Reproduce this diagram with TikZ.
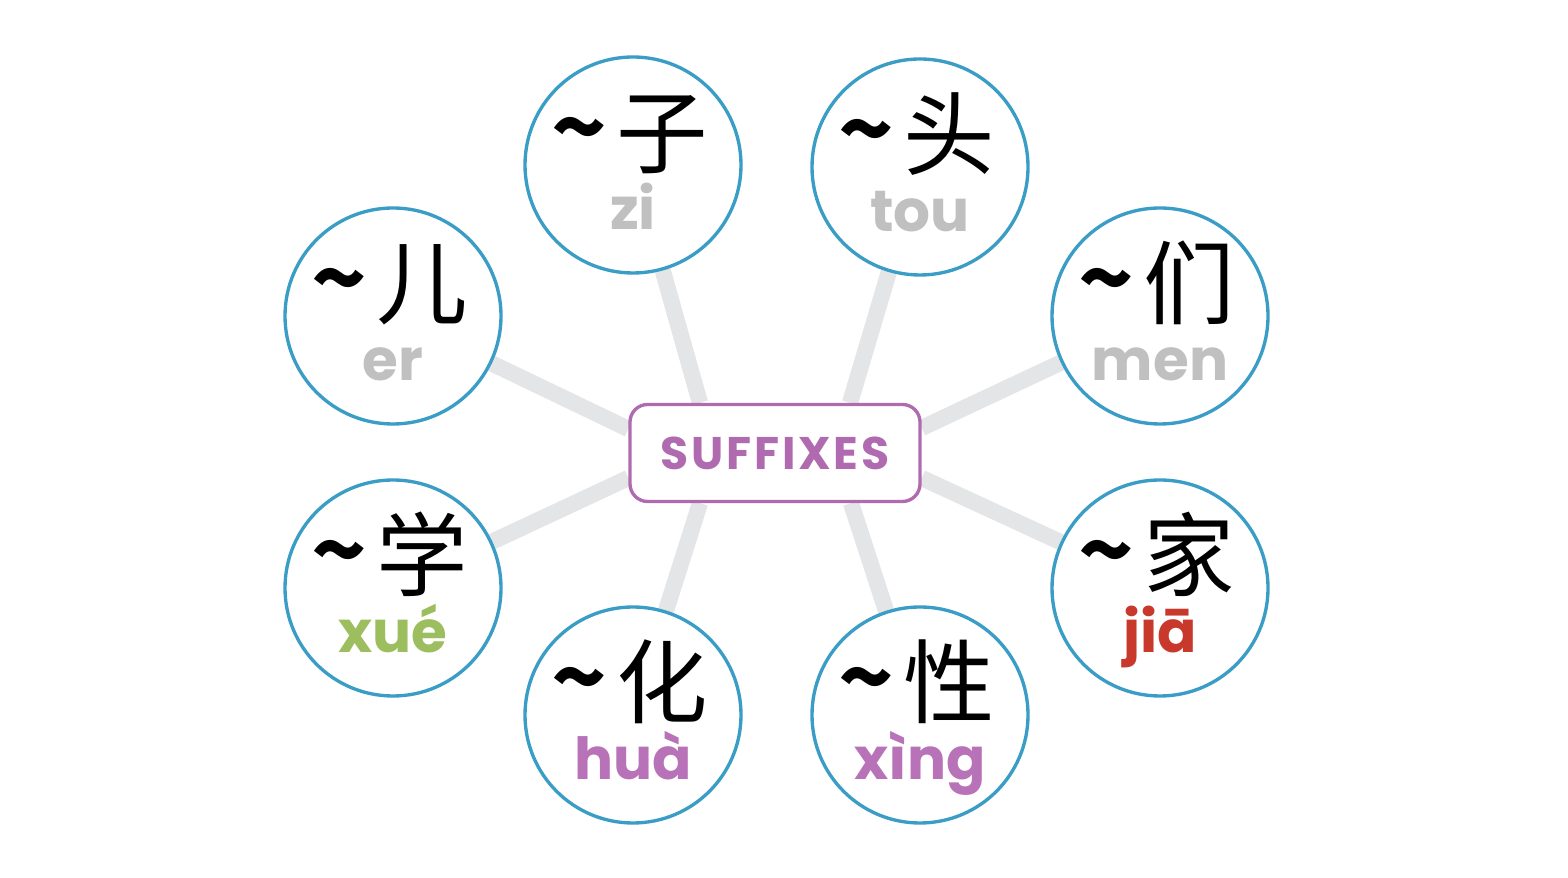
\documentclass[tikz,border=0pt]{standalone}
\usepackage{fontspec}
\usepackage{xcolor}
\newfontfamily\cjk{Noto Sans CJK SC}
\newfontfamily\pyfont{Poppins}
\newfontfamily\hubfont{Poppins}[LetterSpace=6]
\usetikzlibrary{positioning, calc, backgrounds}
\definecolor{ringblue}{HTML}{3A9DC6}
\definecolor{hubpurple}{HTML}{B06AB0}
\definecolor{spokegray}{HTML}{E4E5E7}
\definecolor{pyGray}{HTML}{C0C0C0}
\definecolor{pyGreen}{HTML}{9DBE5F}
\definecolor{pyRed}{HTML}{C8382B}
\definecolor{pyPurple}{HTML}{B872B8}
\newcommand\swung{{\bfseries\raisebox{0.06em}{\textasciitilde}}\hspace{0.1em}}

\begin{document}
\begin{tikzpicture}[
  suffix/.style={circle, draw=ringblue, line width=0.95pt, fill=white,
    minimum size=2.16cm, inner sep=0pt},
  hanzi/.style={font=\cjk\fontsize{26}{26}\selectfont, anchor=base,
    inner sep=0pt},
  pinyin/.style={font=\pyfont\bfseries\fontsize{16.5}{16.5}\selectfont,
    anchor=base, inner sep=0pt},
  hub/.style={draw=hubpurple, line width=0.95pt, rounded corners=5pt,
    fill=white, minimum width=2.9cm, minimum height=0.97cm, text=hubpurple,
    font=\hubfont\bfseries\fontsize{13}{13}\selectfont},
  spoke/.style={draw=spokegray, line width=4.6pt},
]
\useasboundingbox (0,0) rectangle (15.68,8.78);

% Centre box
\node[hub] (hub) at (7.75, 4.25) {SUFFIXES};

% Suffix circles
\node[suffix] (zi)   at (6.33, 7.13) {};
\node[suffix] (tou)  at (9.20, 7.11) {};
\node[suffix] (er)   at (3.93, 5.62) {};
\node[suffix] (men)  at (11.60, 5.62) {};
\node[suffix] (xue)  at (3.93, 2.90) {};
\node[suffix] (jia)  at (11.60, 2.90) {};
\node[suffix] (hua)  at (6.33, 1.63) {};
\node[suffix] (xing) at (9.20, 1.63) {};

% Characters
\node[hanzi] (zi-h)   at ([xshift=-0.03cm, yshift=-0.02cm]zi.center)   {\swung 子};
\node[hanzi] (tou-h)  at ([xshift=-0.03cm, yshift=-0.02cm]tou.center)  {\swung 头};
\node[hanzi] (er-h)   at ([xshift=-0.03cm, yshift=-0.02cm]er.center)   {\swung 儿};
\node[hanzi] (men-h)  at ([xshift=-0.03cm, yshift=-0.02cm]men.center)  {\swung 们};
\node[hanzi] (xue-h)  at ([xshift=-0.03cm, yshift=-0.02cm]xue.center)  {\swung 学};
\node[hanzi] (jia-h)  at ([xshift=-0.03cm, yshift=-0.02cm]jia.center)  {\swung 家};
\node[hanzi] (hua-h)  at ([xshift=-0.03cm, yshift=-0.02cm]hua.center)  {\swung 化};
\node[hanzi] (xing-h) at ([xshift=-0.03cm, yshift=-0.02cm]xing.center) {\swung 性};

% Pinyin
\node[pinyin, text=pyGray]   (zi-p)   at ([yshift=-0.65cm]zi.center)   {zi};
\node[pinyin, text=pyGray]   (tou-p)  at ([yshift=-0.65cm]tou.center)  {tou};
\node[pinyin, text=pyGray]   (er-p)   at ([yshift=-0.65cm]er.center)   {er};
\node[pinyin, text=pyGray]   (men-p)  at ([yshift=-0.65cm]men.center)  {men};
\node[pinyin, text=pyGreen]  (xue-p)  at ([yshift=-0.65cm]xue.center)  {xué};
\node[pinyin, text=pyRed]    (jia-p)  at ([yshift=-0.65cm]jia.center)  {jiā};
\node[pinyin, text=pyPurple] (hua-p)  at ([yshift=-0.65cm]hua.center)  {huà};
\node[pinyin, text=pyPurple] (xing-p) at ([yshift=-0.65cm]xing.center) {xìng};

% Spoke ends on the box
\coordinate (hub-n1) at ($(hub.north)+(-0.75,0)$);
\coordinate (hub-n2) at ($(hub.north)+(0.75,0)$);
\coordinate (hub-s1) at ($(hub.south)+(-0.75,0)$);
\coordinate (hub-s2) at ($(hub.south)+(0.76,0)$);
\coordinate (hub-w1) at ($(hub.west)+(0,0.24)$);
\coordinate (hub-w2) at ($(hub.west)+(0,-0.25)$);
\coordinate (hub-e1) at ($(hub.east)+(0,0.25)$);
\coordinate (hub-e2) at ($(hub.east)+(0,-0.25)$);

% Spokes
\begin{scope}[on background layer]
  \fill[white] (0,0) rectangle (15.68,8.78);
  \draw[spoke] (zi)   -- (hub-n1);
  \draw[spoke] (tou)  -- (hub-n2);
  \draw[spoke] (er)   -- (hub-w1);
  \draw[spoke] (xue)  -- (hub-w2);
  \draw[spoke] (men)  -- (hub-e1);
  \draw[spoke] (jia)  -- (hub-e2);
  \draw[spoke] (hua)  -- (hub-s1);
  \draw[spoke] (xing) -- (hub-s2);
\end{scope}

\end{tikzpicture}
\end{document}
